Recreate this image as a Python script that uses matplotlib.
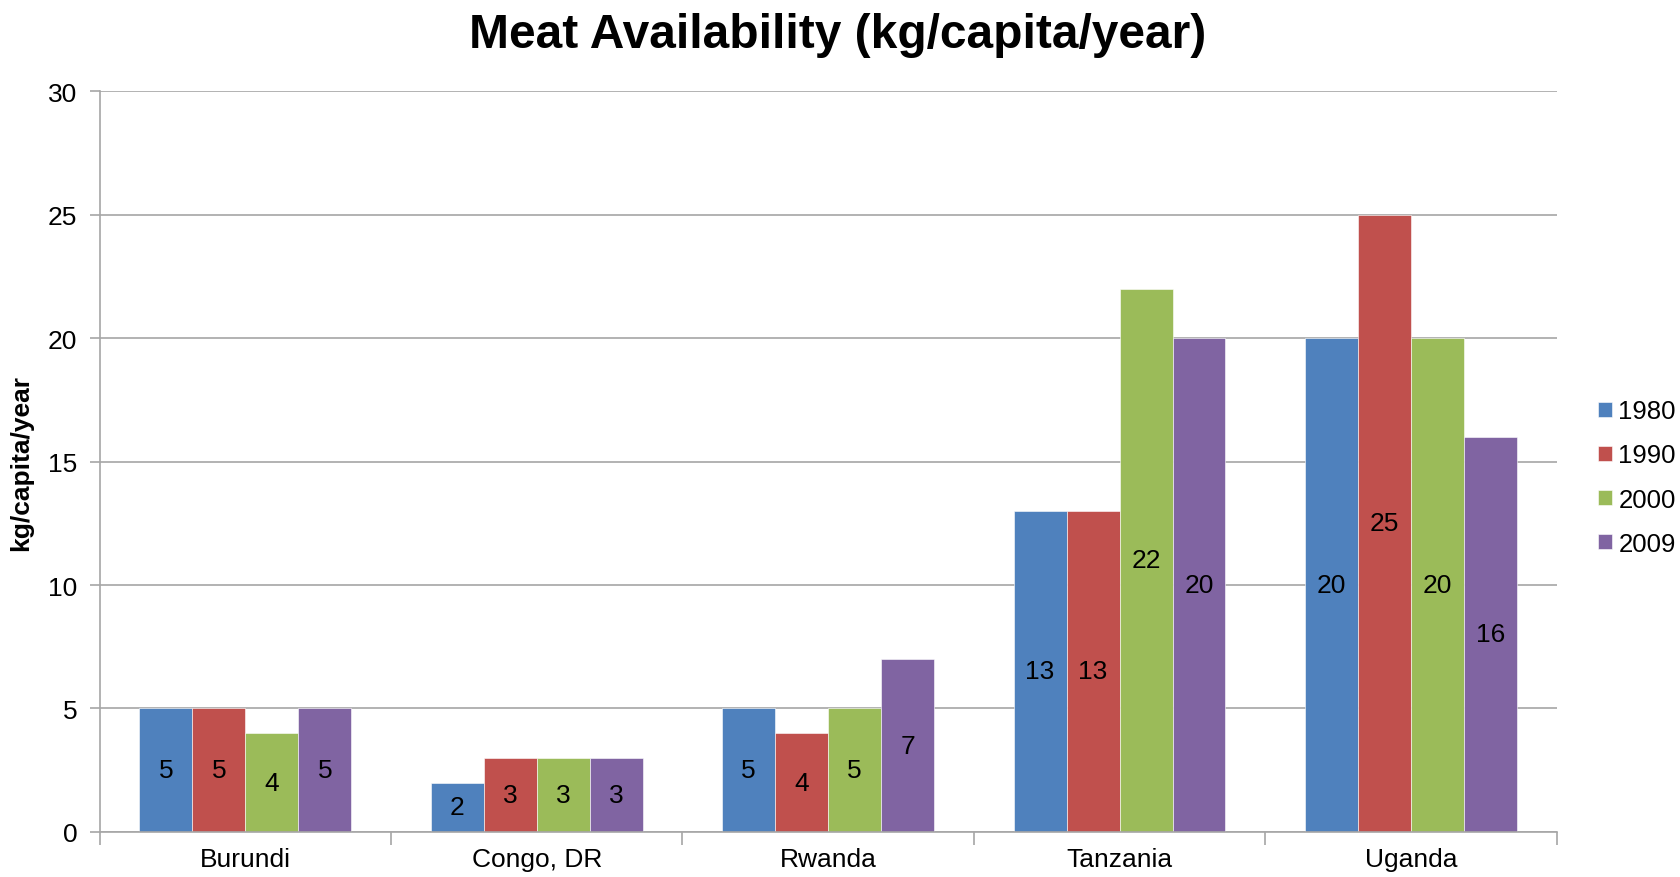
import numpy as np
import matplotlib
matplotlib.use("Agg")
import matplotlib.pyplot as plt

plt.rcParams['font.family'] = ['Liberation Sans', 'DejaVu Sans']

countries = ["Burundi", "Congo, DR", "Rwanda", "Tanzania", "Uganda"]
years = ["1980", "1990", "2000", "2009"]
v1980 = [5, 2, 5, 13, 20]
v1990 = [5, 3, 4, 13, 25]
v2000 = [4, 3, 5, 22, 20]
v2009 = [5, 3, 7, 20, 16]
yticks = [0, 5, 10, 15, 20, 25, 30]

series = [v1980, v1990, v2000, v2009]
colors = ["#4F81BD", "#C0504D", "#9BBB59", "#8064A2"]
grid_col = "#A6A6A6"

fig = plt.figure(figsize=(16.81, 8.78), dpi=100)
ax = fig.add_axes([0.0593, 0.0513, 0.8667, 0.8437])

n = len(series)
bw = 1 / 5.5
x = np.arange(len(countries)) + 0.5
handles = []
for i, (vals, c, yr) in enumerate(zip(series, colors, years)):
    pos = x + (i - (n - 1) / 2) * bw
    bars = ax.bar(pos, vals, width=bw, color=c, edgecolor="white",
                  linewidth=0.4, label=yr, zorder=2)
    handles.append(bars)
    for xp, v in zip(pos, vals):
        ax.text(xp, v / 2, f"{v}", ha="center", va="center",
                fontsize=19, color="black", zorder=3)

ax.set_xlim(0, len(countries))
ax.set_ylim(0, 30)
ax.set_yticks(yticks)
ax.set_yticklabels([str(t) for t in yticks], fontsize=19)
ax.yaxis.grid(True, color=grid_col, linewidth=1.2, zorder=0)
ax.set_axisbelow(True)

# category labels centred, tick marks on the category boundaries
ax.set_xticks(np.arange(len(countries) + 1))
ax.set_xticklabels([])
ax.set_xticks(x, minor=True)
ax.set_xticklabels(countries, minor=True, fontsize=19)
ax.tick_params(axis="x", which="major", length=9, width=1.2, color=grid_col, direction="out")
ax.tick_params(axis="x", which="minor", length=0, pad=11)
ax.tick_params(axis="y", length=7, width=1.2, color=grid_col, direction="out", pad=9)

for s in ["top", "right"]:
    ax.spines[s].set_visible(False)
for s in ["left", "bottom"]:
    ax.spines[s].set_color(grid_col)
    ax.spines[s].set_linewidth(1.2)

ax.set_ylabel("kg/capita/year", fontsize=19, fontweight="bold")
ax.yaxis.set_label_coords(-0.046, 0.5)

fig.suptitle("Meat Availability (kg/capita/year)", fontsize=34.5, fontweight="bold",
             x=0.4985, y=0.985, va="top")

leg = fig.legend(handles=handles, labels=years, loc="center left",
                 bbox_to_anchor=(0.9505, 0.455), frameon=False, fontsize=18.5,
                 handlelength=0.55, handleheight=0.55, handletextpad=0.25,
                 labelspacing=0.78, borderaxespad=0, borderpad=0)

fig.savefig("out.png", dpi=100)
